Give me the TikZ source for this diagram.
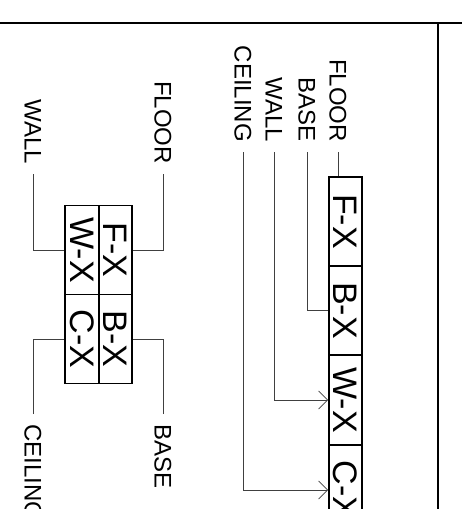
\documentclass[tikz,border=0pt]{standalone}
\usepackage{fontspec}
\setmainfont{Liberation Sans}
\usetikzlibrary{arrows.meta}

\begin{document}
\begin{tikzpicture}[x=1pt, y=-1pt, >={Straight Barb[length=9pt,width=18pt]},
    cell/.style={draw, line width=1.6pt, minimum width=33.5pt, minimum height=89pt, inner sep=0pt, font=\fontsize{34}{36}\selectfont},
    lbl/.style={inner sep=10pt, font=\fontsize{24}{28}\selectfont},
    wire/.style={black!75, line width=0.8pt}]
        \useasboundingbox (0,0) rectangle (462,509);
        \draw[line width=1.6pt] (0,23) -- (462,23);
        \draw[line width=1.6pt] (438,23) -- (438,509);
        \node[cell] (wxA) at (82,250) {\rotatebox{-90}{W-X}};
        \node[cell] (fxA) at (115.5,250) {\rotatebox{-90}{F-X}};
        \node[cell] (cxA) at (82,339) {\rotatebox{-90}{C-X}};
        \node[cell] (bxA) at (115.5,339) {\rotatebox{-90}{B-X}};
        \node[lbl, anchor=south] (floorA) at (163,174) {\rotatebox{-90}{FLOOR}};
        \node[lbl, anchor=south] (wallA) at (33,174) {\rotatebox{-90}{WALL}};
        \node[lbl, anchor=north] (ceilA) at (33,414) {\rotatebox{-90}{CEILING}};
        \node[lbl, anchor=north] (baseA) at (163,414) {\rotatebox{-90}{BASE}};
        \draw[wire] (floorA.south) |- (fxA.east);
        \draw[wire] (wallA.south) |- (wxA.west);
        \draw[wire] (ceilA.north) |- (cxA.west);
        \draw[wire] (baseA.north) |- (bxA.east);
        \node[cell, minimum width=33pt] (fxB) at (345.5,221.5) {\rotatebox{-90}{F-X}};
        \node[cell, minimum width=33pt] (bxB) at (345.5,310.5) {\rotatebox{-90}{B-X}};
        \node[cell, minimum width=33pt] (wxB) at (345.5,400) {\rotatebox{-90}{W-X}};
        \node[cell, minimum width=33pt] (cxB) at (345.5,490) {\rotatebox{-90}{C-X}};
        \node[lbl, anchor=south] (floorB) at (338,152) {\rotatebox{-90}{FLOOR}};
        \node[lbl, anchor=south] (baseB) at (307,152) {\rotatebox{-90}{BASE}};
        \node[lbl, anchor=south] (wallB) at (274,152) {\rotatebox{-90}{WALL}};
        \node[lbl, anchor=south] (ceilB) at (243,152) {\rotatebox{-90}{CEILING}};
        \draw[wire] (floorB.south) -- (floorB.south |- fxB.north);
        \draw[wire] (baseB.south) |- (bxB.west);
        \draw[wire, ->] (wallB.south) |- (wxB.west);
        \draw[wire, ->] (ceilB.south) |- (cxB.west);
      \end{tikzpicture}
\end{document}
